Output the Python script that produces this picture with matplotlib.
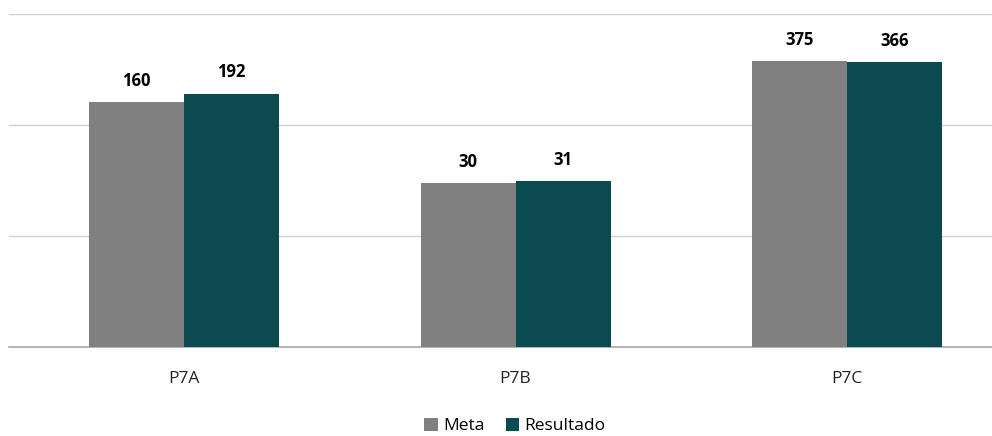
import matplotlib
matplotlib.use("Agg")
import matplotlib.pyplot as plt
from matplotlib.ticker import FixedLocator, NullLocator
import numpy as np

categories = ["P7A", "P7B", "P7C"]
meta = [160, 30, 375]
resultado = [192, 31, 366]

plt.rcParams['font.family'] = ['Open Sans', 'DejaVu Sans']

fig = plt.figure(figsize=(9.92, 4.36), dpi=100)
ax = fig.add_axes([9/992, 89/436, 983/992, 333/436])

x = np.arange(len(categories))
w = 0.2866
c_meta = "#808080"
c_res = "#0B4A50"
b1 = ax.bar(x - w/2, meta, w, color=c_meta, label="Meta", zorder=3)
b2 = ax.bar(x + w/2, resultado, w, color=c_res, label="Resultado", zorder=3)

ax.set_yscale("log")
ax.set_ylim(1, 1000)
ax.set_xlim(-0.528, 2.437)
ax.yaxis.set_major_locator(FixedLocator([10, 100, 1000]))
ax.yaxis.set_minor_locator(NullLocator())
ax.set_yticklabels([])
ax.tick_params(axis='y', length=0)
ax.grid(axis='y', color="#D0D0D0", linewidth=1.0, zorder=0)
for s in ["top", "right", "left"]:
    ax.spines[s].set_visible(False)
ax.spines["bottom"].set_color("#A6A6A6")
ax.spines["bottom"].set_linewidth(1.2)

ax.set_xticks(x)
ax.set_xticklabels(categories, fontsize=12.5, color="#222222")
ax.tick_params(axis='x', length=0, pad=17)

for bars, vals in ((b1, meta), (b2, resultado)):
    for b, v in zip(bars, vals):
        ax.annotate(str(v), (b.get_x() + b.get_width()/2, v), xytext=(0, 9),
                    textcoords="offset points", ha="center", va="bottom",
                    fontsize=12, fontweight="bold", color="#000000")

fig.legend(handles=[b1, b2], labels=["Meta", "Resultado"], loc="center",
           bbox_to_anchor=(515/992, 1 - 426/436), ncol=2, frameon=False,
           fontsize=12.5, handlelength=0.8, handleheight=0.8, handletextpad=0.3,
           columnspacing=1.2)

fig.savefig("out.png", dpi=100)
